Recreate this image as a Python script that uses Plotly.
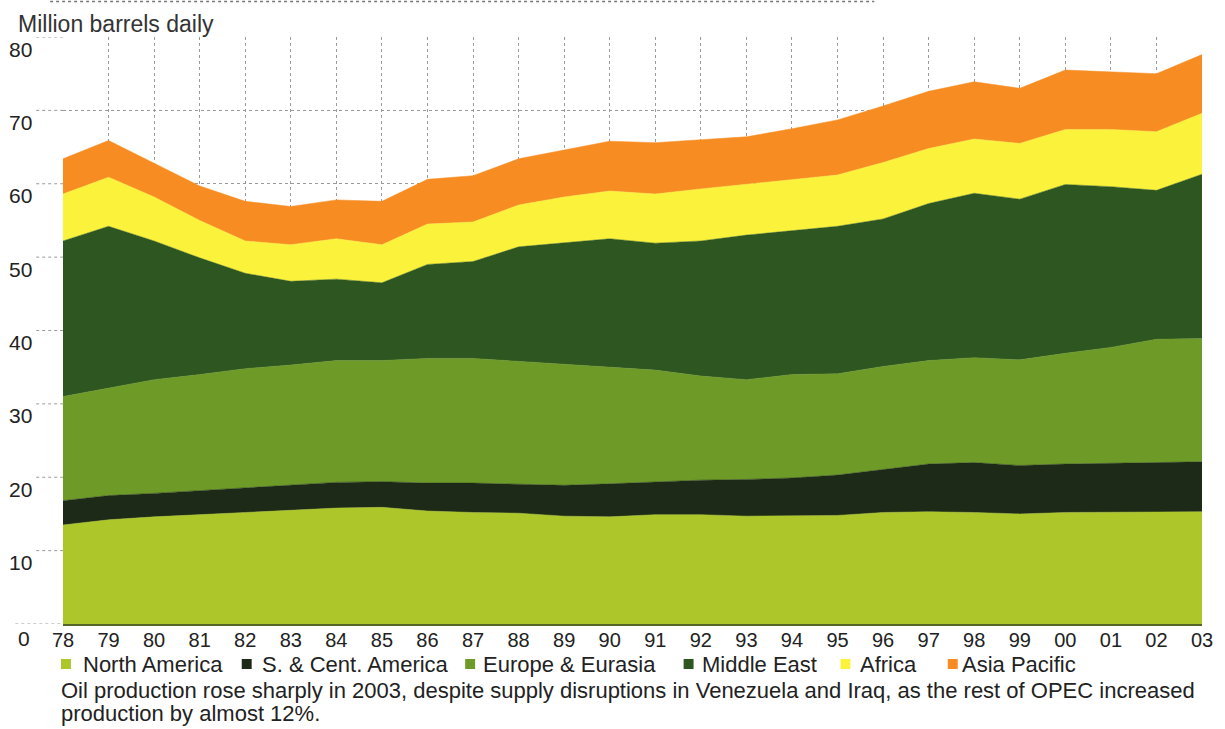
import plotly.graph_objects as go

years = ["78", "79", "80", "81", "82", "83", "84", "85", "86", "87", "88", "89", "90",
         "91", "92", "93", "94", "95", "96", "97", "98", "99", "00", "01", "02", "03"]

north_america = [13.5, 14.2, 14.6, 14.9, 15.2, 15.4, 15.8, 15.9, 15.4, 15.2, 15.1, 14.7, 14.6,
                 14.9, 14.9, 14.7, 14.7, 14.8, 15.2, 15.3, 15.2, 15.0, 15.2, 15.2, 15.3, 15.3]
s_cent_america = [3.3, 3.3, 3.2, 3.3, 3.4, 3.5, 3.5, 3.5, 3.8, 4.0, 3.9, 4.2, 4.5,
                  4.5, 4.7, 5.0, 5.2, 5.5, 5.9, 6.5, 6.8, 6.6, 6.6, 6.7, 6.8, 6.8]
europe_eurasia = [14.2, 14.7, 15.5, 15.8, 16.2, 16.4, 16.6, 16.5, 17.0, 17.0, 16.8, 16.5, 15.9,
                  15.2, 14.2, 13.6, 14.1, 13.8, 14.0, 14.1, 14.3, 14.4, 15.1, 15.8, 16.7, 16.8]
middle_east = [21.2, 22.0, 18.9, 15.9, 13.0, 11.4, 11.1, 10.6, 12.8, 13.2, 15.6, 16.6, 17.5,
               17.3, 18.4, 19.7, 19.6, 20.1, 20.1, 21.4, 22.4, 21.9, 23.0, 21.9, 20.3, 22.4]
africa = [6.4, 6.7, 6.0, 5.1, 4.4, 5.0, 5.5, 5.2, 5.5, 5.4, 5.7, 6.2, 6.5,
          6.7, 7.1, 6.9, 7.0, 7.0, 7.7, 7.5, 7.4, 7.6, 7.5, 7.8, 8.0, 8.3]
asia_pacific = [4.8, 5.0, 4.6, 4.7, 5.4, 5.2, 5.3, 5.9, 6.1, 6.3, 6.3, 6.4, 6.8,
                7.0, 6.7, 6.5, 6.9, 7.5, 7.7, 7.8, 7.8, 7.5, 8.1, 7.8, 7.9, 8.0]

series_names = ["North America", "S. & Cent. America", "Europe & Eurasia",
                "Middle East", "Africa", "Asia Pacific"]
series_values = [north_america, s_cent_america, europe_eurasia, middle_east, africa, asia_pacific]
series_colors = ["#adc62a", "#1d2a17", "#6e9a28", "#2e5620", "#fbf23c", "#f68c22"]

y_ticks = [0, 10, 20, 30, 40, 50, 60, 70, 80]

title_text = "Million barrels daily"
caption_lines = [
    "Oil production rose sharply in 2003, despite supply disruptions in Venezuela and Iraq, as the rest of OPEC increased",
    "production by almost 12%.",
]

# ---- layout geometry (pixels) ----
W, H = 1225, 729
L, R, T, B = 63, 15, 37, 105
PW, PH = W - L - R, H - T - B
BASE_Y = H - B


def px(x):
    return (x - L) / PW


def py(y):
    return (BASE_Y - y) / PH


FONT = "Liberation Sans, Arial, sans-serif"
TXT = "#222222"

fig = go.Figure()
for name, vals, col in zip(series_names, series_values, series_colors):
    fig.add_trace(go.Scatter(
        x=years, y=vals, name=name, mode="lines", stackgroup="one",
        line=dict(width=0.5, color=col), fillcolor=col, showlegend=False,
        hoverinfo="x+y+name",
    ))

annotations = []
shapes = []

# title
annotations.append(dict(text=title_text, xref="paper", yref="paper", x=px(16), y=py(24),
                        xanchor="left", yanchor="middle", showarrow=False,
                        font=dict(size=23, color="#333333", family=FONT)))

# y tick labels (hanging below gridlines)
for v in y_ticks:
    annotations.append(dict(text=str(v), xref="paper", yref="y", x=px(34 if v else 32), y=v,
                            xanchor="right", yanchor="middle", yshift=-12 if v else -14,
                            showarrow=False,
                            font=dict(size=21, color=TXT, family=FONT)))
    if v:
        shapes.append(dict(type="line", xref="paper", yref="y", x0=px(36), x1=px(63), y0=v, y1=v,
                           line=dict(color="#9a9a9a", width=1, dash="dot"), layer="below"))
shapes.append(dict(type="line", xref="paper", yref="y", x0=px(15), x1=px(63), y0=0, y1=0,
                   line=dict(color="#9a9a9a", width=1, dash="dot"), layer="below"))

# header rule at top
shapes.append(dict(type="line", xref="paper", yref="paper", x0=px(50), x1=px(880), y0=py(1.5), y1=py(1.5),
                   line=dict(color="#777777", width=1.5, dash="dot")))

# legend (manual)
legend_pos = [(61, 83), (243, 263), (468, 486), (688, 706), (846, 866), (954, 968)]
leg_y = 664
for (mx, tx), name, col in zip(legend_pos, series_names, series_colors):
    shapes.append(dict(type="rect", xref="paper", yref="paper",
                       x0=px(mx), x1=px(mx + 10), y0=py(leg_y + 5), y1=py(leg_y - 5),
                       fillcolor=col, line=dict(width=0)))
    annotations.append(dict(text=name, xref="paper", yref="paper", x=px(tx - 2), y=py(leg_y),
                            xanchor="left", yanchor="middle", showarrow=False,
                            font=dict(size=22, color=TXT, family=FONT)))

# caption
for i, line in enumerate(caption_lines):
    annotations.append(dict(text=line, xref="paper", yref="paper", x=px(59), y=py(690 + 24 * i),
                            xanchor="left", yanchor="middle", showarrow=False,
                            font=dict(size=22, color=TXT, family=FONT)))

fig.update_layout(
    width=W, height=H,
    margin=dict(l=L, r=R, t=T, b=B, pad=0),
    paper_bgcolor="white", plot_bgcolor="white",
    font=dict(family=FONT, color=TXT),
    xaxis=dict(type="category", range=[0, len(years) - 1], showgrid=True,
               gridcolor="#9a9a9a", griddash="dot", gridwidth=1,
               showline=True, linecolor="#55652a", linewidth=1.5,
               ticks="", tickfont=dict(size=20, color=TXT, family=FONT),
               ticklabelstandoff=-3, fixedrange=True),
    yaxis=dict(range=[0, 80], dtick=10, showgrid=True, gridcolor="#9a9a9a", griddash="dot",
               gridwidth=1, zeroline=False, showticklabels=False, ticks="", fixedrange=True),
    annotations=annotations, shapes=shapes,
    showlegend=False,
)

fig.write_html("out.html")
